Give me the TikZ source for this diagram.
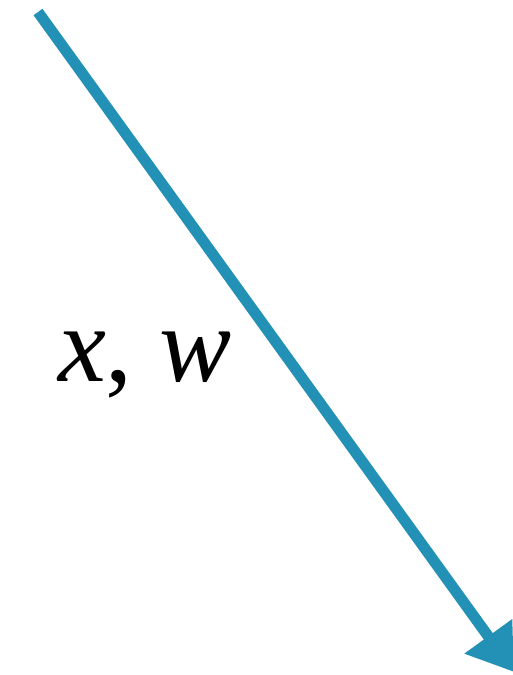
\documentclass[tikz,border=0pt]{standalone}
\usepackage{fontspec}
\setmainfont{Liberation Serif}[ItalicFont={Liberation Serif Italic}]
\usepackage{xcolor}
\usetikzlibrary{positioning,arrows.meta}
\definecolor{flowblue}{RGB}{35,145,181}

\begin{document}
\begin{tikzpicture}[
    x=1pt, y=-1pt,
    flow/.style={draw=flowblue, line width=11pt, -{Triangle[length=44pt,width=56pt]}, fill=flowblue},
    label/.style={font=\fontsize{108}{114}\selectfont, inner sep=0pt}
]

\useasboundingbox (0,0) rectangle (513,675);

% Arrow ends
\coordinate (start) at (38,12);
\coordinate (end) at (514,672);
\draw[flow] (start) -- (end);

% Label
\node[label] (xw) at (145,365) {\textit{x}, \textit{w}};

\end{tikzpicture}
\end{document}
